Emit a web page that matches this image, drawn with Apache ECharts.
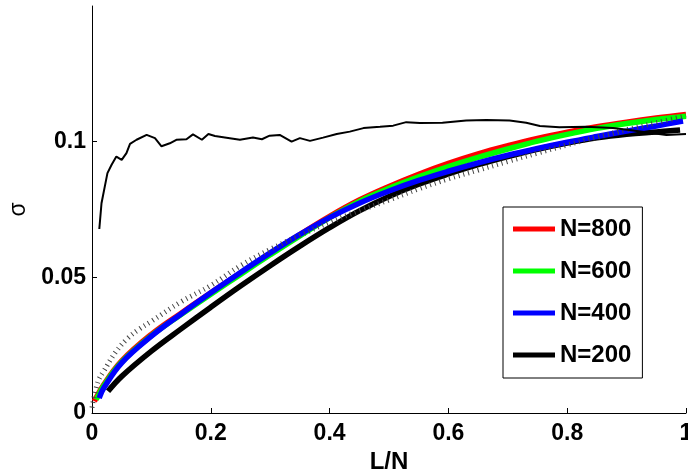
<!DOCTYPE html>
<html>
<head>
<meta charset="utf-8">
<script src="https://cdn.jsdelivr.net/npm/echarts@6/dist/echarts.min.js"></script>
<style>
html,body{margin:0;padding:0;background:#fff;}
#chart{width:688px;height:473px;}
</style>
</head>
<body>
<div id="chart"></div>
<script>
// ---- data ----
const xTicks = [0, 0.2, 0.4, 0.6, 0.8, 1];
const yTicks = [0, 0.05, 0.1];

const x800 = [0.004, 0.02, 0.05, 0.1, 0.15, 0.2, 0.25, 0.3, 0.35, 0.4, 0.45, 0.5, 0.55, 0.6, 0.65, 0.7, 0.75, 0.8, 0.85, 0.9, 0.95, 1.0];
const y800 = [0.0043, 0.0105, 0.0192, 0.029, 0.0368, 0.0443, 0.0516, 0.0588, 0.0658, 0.0725, 0.0785, 0.0835, 0.088, 0.092, 0.0955, 0.0985, 0.1012, 0.1035, 0.1055, 0.1072, 0.1087, 0.110];

const x600 = [0.007, 0.02, 0.05, 0.1, 0.15, 0.2, 0.25, 0.3, 0.35, 0.4, 0.45, 0.5, 0.55, 0.6, 0.65, 0.7, 0.75, 0.8, 0.85, 0.9, 0.95, 1.0];
const y600 = [0.0049, 0.0101, 0.0188, 0.0285, 0.0363, 0.0438, 0.0511, 0.0583, 0.0653, 0.072, 0.078, 0.0828, 0.087, 0.0908, 0.0942, 0.0973, 0.1002, 0.1027, 0.1049, 0.1067, 0.1082, 0.1094];

const x400 = [0.012, 0.02, 0.05, 0.1, 0.15, 0.2, 0.25, 0.3, 0.35, 0.4, 0.45, 0.5, 0.55, 0.6, 0.65, 0.7, 0.75, 0.8, 0.85, 0.9, 0.95, 0.995];
const y400 = [0.0055, 0.0093, 0.0185, 0.0283, 0.0365, 0.0443, 0.0518, 0.059, 0.0658, 0.072, 0.0773, 0.0818, 0.0857, 0.0891, 0.0922, 0.095, 0.0975, 0.0998, 0.1019, 0.1039, 0.1058, 0.1076];

const x200 = [0.027, 0.05, 0.1, 0.15, 0.2, 0.25, 0.3, 0.35, 0.4, 0.45, 0.5, 0.55, 0.6, 0.65, 0.7, 0.75, 0.8, 0.85, 0.9, 0.95, 0.99];
const y200 = [0.008, 0.0135, 0.0228, 0.031, 0.039, 0.0468, 0.0543, 0.0615, 0.0683, 0.0745, 0.0798, 0.0843, 0.0881, 0.0915, 0.0945, 0.0972, 0.0995, 0.1014, 0.1027, 0.1036, 0.1043];

const xFit = [0, 0.01, 0.02, 0.04, 0.06, 0.08, 0.1, 0.15, 0.2, 0.25, 0.3, 0.35, 0.4, 0.45, 0.5, 0.55, 0.6, 0.65, 0.7, 0.75, 0.8, 0.85, 0.9, 0.95, 1.0];
const yFit = [0.002, 0.0115, 0.0155, 0.0225, 0.0275, 0.031, 0.0338, 0.041, 0.047, 0.0543, 0.0603, 0.0655, 0.0703, 0.0745, 0.0785, 0.0826, 0.0863, 0.0895, 0.0927, 0.0958, 0.0988, 0.1016, 0.1044, 0.107, 0.1095];

const xThin = [0.0123, 0.016, 0.022, 0.026, 0.033, 0.041, 0.050, 0.058, 0.064, 0.075, 0.092, 0.106, 0.117, 0.131, 0.142, 0.159, 0.170, 0.185, 0.196, 0.207, 0.232, 0.249, 0.271, 0.286, 0.299, 0.316, 0.336, 0.350, 0.367, 0.389, 0.412, 0.434, 0.457, 0.485, 0.507, 0.529, 0.552, 0.590, 0.630, 0.664, 0.703, 0.731, 0.754, 0.787, 0.832, 0.877, 0.911, 0.945, 0.967, 1.0];
const yThin = [0.0678, 0.0773, 0.084, 0.0884, 0.0915, 0.0945, 0.0933, 0.0958, 0.0992, 0.1007, 0.1025, 0.1013, 0.0983, 0.0994, 0.1007, 0.1009, 0.1027, 0.1007, 0.1028, 0.1021, 0.1013, 0.1007, 0.1015, 0.1009, 0.1022, 0.1025, 0.1000, 0.1013, 0.1003, 0.1015, 0.1028, 0.1037, 0.1050, 0.1055, 0.1059, 0.1072, 0.1069, 0.1070, 0.1078, 0.1080, 0.1078, 0.1070, 0.1058, 0.1053, 0.1055, 0.1050, 0.1041, 0.1031, 0.1025, 0.1028];

const names = ['N=800', 'N=600', 'N=400', 'N=200'];

function zip(xs, ys) { return xs.map((x, i) => [x, ys[i]]); }

const FONT = '"Liberation Sans", Arial, Helvetica, sans-serif';

const chart = echarts.init(document.getElementById('chart'), null, {renderer: 'canvas'});
function thick(name, color, xs, ys, z) {
  return {
    name: name, type: 'line', data: zip(xs, ys), showSymbol: false, symbol: 'none',
    smooth: 0.4, z: z,
    lineStyle: {color: color, width: 5.5, cap: 'butt'},
    itemStyle: {color: color}
  };
}
chart.setOption({
  animation: false,
  backgroundColor: '#fff',
  grid: {left: 92, right: 2, top: 6, bottom: 60, containLabel: false, outerBoundsMode: 'none'},
  xAxis: {
    type: 'value', min: 0, max: 1, interval: 0.2,
    name: 'L/N', nameLocation: 'middle', nameGap: 30,
    nameTextStyle: {fontFamily: FONT, fontWeight: 'bold', fontSize: 24, color: '#000'},
    axisLine: {show: true, lineStyle: {color: '#000', width: 1}},
    axisTick: {show: true, inside: true, length: 5, lineStyle: {color: '#000'}},
    axisLabel: {fontFamily: FONT, fontWeight: 'bold', fontSize: 23, color: '#000', margin: 9,
      customValues: xTicks},
    splitLine: {show: false}
  },
  yAxis: {
    type: 'value', min: 0, max: 0.15, interval: 0.05,
    name: 'σ', nameLocation: 'middle', nameGap: 62,
    nameTextStyle: {fontFamily: FONT, fontSize: 23, color: '#000'},
    axisLine: {show: true, lineStyle: {color: '#000', width: 1}},
    axisTick: {show: true, inside: true, length: 5, lineStyle: {color: '#000'}, customValues: yTicks},
    axisLabel: {fontFamily: FONT, fontWeight: 'bold', fontSize: 23, color: '#000', margin: 6,
      customValues: yTicks},
    splitLine: {show: false}
  },
  legend: {
    data: names, orient: 'vertical', left: 503, top: 207,
    icon: 'rect', itemWidth: 42, itemHeight: 5, itemGap: 18,
    padding: [10, 11, 11, 10],
    borderColor: '#000', borderWidth: 1, backgroundColor: '#fff',
    textStyle: {fontFamily: FONT, fontWeight: 'bold', fontSize: 24, color: '#000', lineHeight: 24, padding: [0, 0, 0, 0]}
  },
  series: [
    thick('N=200', '#000000', x200, y200, 2),
    thick('N=800', '#ff0000', x800, y800, 3),
    thick('N=600', '#00ff00', x600, y600, 4),
    thick('N=400', '#0000ff', x400, y400, 5),
    {
      name: 'fit', type: 'line', data: zip(xFit, yFit), showSymbol: false, symbol: 'none',
      smooth: 0.4, z: 6,
      lineStyle: {color: '#444', width: 5, type: [1, 4]}
    },
    {
      name: 'single', type: 'line', data: zip(xThin, yThin), showSymbol: false, symbol: 'none',
      z: 7, lineStyle: {color: '#000', width: 2}
    }
  ]
});
</script>
</body>
</html>
